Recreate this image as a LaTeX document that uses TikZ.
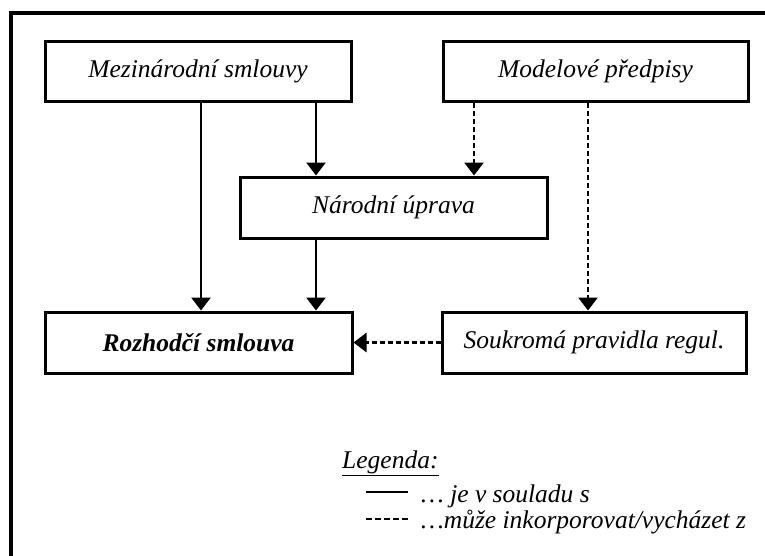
\documentclass[tikz,border=0pt]{standalone}
\usepackage{fontspec}
\setmainfont{Liberation Serif}
\usetikzlibrary{arrows.meta}
\begin{document}
\begin{tikzpicture}[x=1pt,y=-1pt,
  box/.style={draw,line width=3pt,rectangle,inner sep=0pt,minimum height=60pt,
     font=\fontsize{25.5}{30}\selectfont\itshape},
  solidarrow/.style={line width=2.6pt,-{Triangle[width=19pt,length=13pt]}},
  dasharrow/.style={line width=2.6pt,dash pattern=on 5pt off 3pt,-{Triangle[width=19pt,length=13pt]}},
  lbl/.style={anchor=base west,inner sep=0pt,font=\fontsize{25.5}{30}\selectfont\itshape}]
\useasboundingbox (0,0) rectangle (765,555);
\draw[line width=3.4pt] (11,580) -- (11,13) -- (790,13);
\node[box,minimum width=306pt] (mez) at (198,71) {Mezinárodní smlouvy};
\node[box,minimum width=305pt] (mod) at (595.5,71) {Modelové předpisy};
\node[box,minimum width=307pt,minimum height=61pt] (nar) at (393.5,207.5) {Národní úprava};
\node[box,minimum width=307pt,minimum height=61pt,font=\fontsize{25.5}{30}\selectfont\bfseries\itshape] (roz) at (198.5,342.5) {Rozhodčí smlouva};
\node[box,minimum width=304pt,minimum height=61pt] (sou) at (594,342.5) {Soukromá pravidla regul.};
\coordinate (c1) at (201,0);
\coordinate (c2) at (316,0);
\coordinate (c3) at (474,0);
\coordinate (c4) at (588,0);
\draw[solidarrow] (mez.south -| c1) -- (roz.north -| c1);
\draw[solidarrow] (mez.south -| c2) -- (nar.north -| c2);
\draw[solidarrow] (nar.south -| c2) -- (roz.north -| c2);
\draw[dasharrow] (mod.south -| c3) -- (nar.north -| c3);
\draw[dasharrow] (mod.south -| c4) -- (sou.north -| c4);
\draw[dasharrow] (sou.west) -- (roz.east);
% legend
\node[lbl] (leg) at (342,468) {\underline{Legenda:}};
\coordinate (l1a) at (366,492);
\coordinate (l1b) at (408,492);
\coordinate (l2a) at (366,519);
\coordinate (l2b) at (408,519);
\draw[line width=2.8pt] (l1a) -- (l1b);
\draw[line width=2.8pt,dash pattern=on 6pt off 3pt] (l2a) -- (l2b);
\node[lbl] (t1) at (421,502) {\dots\ je v souladu s};
\node[lbl] (t2) at (421,528) {\dots může inkorporovat/vycházet z};
\end{tikzpicture}
\end{document}
